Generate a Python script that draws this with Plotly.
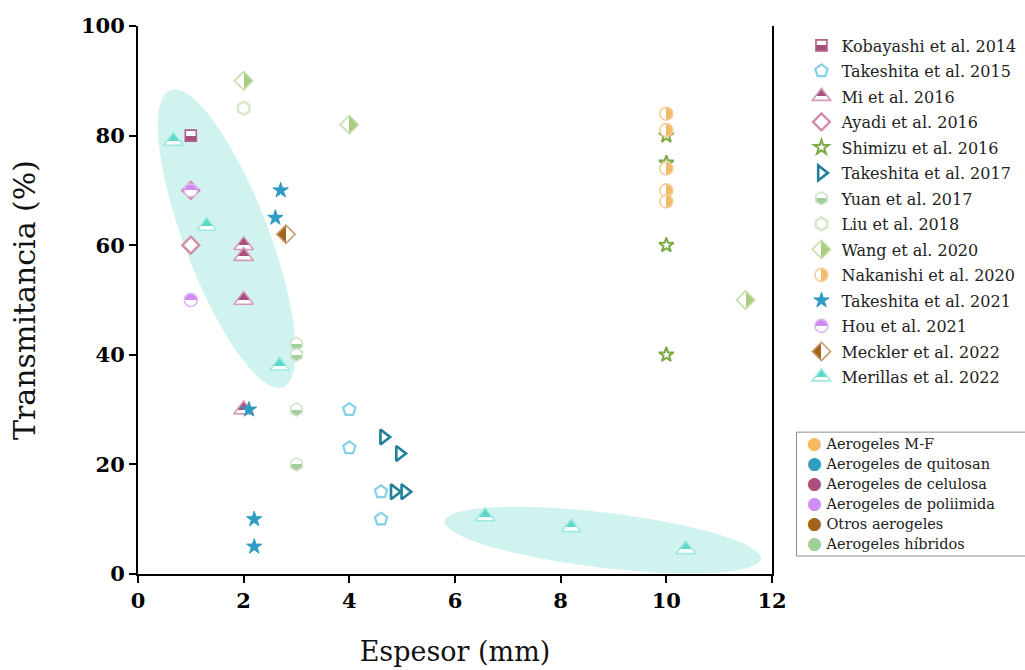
import numpy as np
import plotly.graph_objects as go

# ---------------- data ----------------
kob_x = [1.0];                          kob_y = [80]
tk15_x = [4.0, 4.0, 4.6, 4.6];          tk15_y = [30, 23, 15, 10]
mi_x = [2.0, 2.0, 2.0, 2.0];            mi_y = [60, 58, 50, 30]
ayadi_x = [1.0, 1.0];                   ayadi_y = [70, 60]
shim_x = [10, 10, 10, 10];              shim_y = [80, 75, 60, 40]
tk17_x = [4.65, 4.95, 4.85, 5.05];      tk17_y = [25, 22, 15, 15]
yuan_x = [3.0, 3.0, 3.0, 3.0];          yuan_y = [42, 40, 30, 20]
liu_x = [2.0];                          liu_y = [85]
wang_x = [2.0, 4.0, 11.5];              wang_y = [90, 82, 50]
naka_x = [10, 10, 10, 10, 10];          naka_y = [84, 81, 74, 70, 68]
tk21_x = [2.7, 2.6, 2.1, 2.2, 2.2];     tk21_y = [70, 65, 30, 10, 5]
hou_x = [1.0, 1.0];                     hou_y = [70, 50]
meck_x = [2.8];                         meck_y = [62]
meri_x = [0.67, 1.3, 2.68, 6.57, 8.2, 10.37]
meri_y = [79, 63.5, 38, 10.5, 8.5, 4.5]

category_names = ["Aerogeles M-F", "Aerogeles de quitosan", "Aerogeles de celulosa",
                  "Aerogeles de poliimida", "Otros aerogeles", "Aerogeles híbridos"]
category_colors = ["#f5b95f", "#2f9dc4", "#ad4f7e", "#cf8cf2", "#a3631b", "#9dcf98"]

x_ticks = [0, 2, 4, 6, 8, 10, 12]
y_ticks = [0, 20, 40, 60, 80, 100]

# ---------------- layout geometry ----------------
W, H = 1025, 670
ML, MR, MT, MB = 137.5, 252.5, 25.5, 96
XPX = (W - ML - MR) / 12.0      # pixels per x unit
YPX = (H - MT - MB) / 100.0     # pixels per y unit

SERIF = "DejaVu Serif"

fig = go.Figure()


def ellipse_path(cx, cy, a_px, b_px, ang_deg, n=120):
    t = np.linspace(0, 2 * np.pi, n)
    ang = np.radians(ang_deg)
    u, v = a_px * np.cos(t), b_px * np.sin(t)
    dx = u * np.cos(ang) - v * np.sin(ang)
    dy = u * np.sin(ang) + v * np.cos(ang)
    xs = cx + dx / XPX
    ys = cy - dy / YPX
    return "M " + " L ".join(f"{x:.4f},{y:.4f}" for x, y in zip(xs, ys)) + " Z"


for (cx, cy, a, b, ang) in [(1.68, 61.2, 159, 42.4, 69.2), (8.80, 6.2, 159.4, 27.6, 6.8)]:
    fig.add_shape(type="path", path=ellipse_path(cx, cy, a, b, ang), xref="x", yref="y",
                  fillcolor="#d0f3f0", line=dict(width=0), layer="below")


def add(name, xs, ys, symbol, size, fill, line, lw=1.6, grad=None, gcol=None, uid=None):
    marker = dict(symbol=symbol, size=size, color=fill, line=dict(color=line, width=lw))
    if grad:
        marker["gradient"] = dict(type=grad, color=gcol)
    kw = {}
    if uid:
        kw["uid"] = uid
    fig.add_trace(go.Scatter(x=xs, y=ys, mode="markers", name=name, legendgroup=name,
                             marker=marker, cliponaxis=False, **kw))


add("Kobayashi et al. 2014", kob_x, kob_y, "square", 11, "white", "#b45c8a", 1.6, "vertical", "#a8507c")
add("Takeshita et al. 2015", tk15_x, tk15_y, "pentagon", 13, "white", "#84d0e8", 2.2)
add("Mi et al. 2016", mi_x, mi_y, "triangle-up", 17, "#a8507c", "#d49ab8", 1.6, "vertical", "white", "trimi")
add("Ayadi et al. 2016", ayadi_x, ayadi_y, "diamond", 13, "white", "#d08cab", 2.4)
add("Shimizu et al. 2016", shim_x, shim_y, "star", 11, "white", "#7aab45", 2.0)
add("Takeshita et al. 2017", tk17_x, tk17_y, "triangle-right", 13, "white", "#227f9c", 2.6)
add("Yuan et al. 2017", yuan_x, yuan_y, "hexagon", 13, "white", "#cfe5c8", 1.6, "vertical", "#a3cf9e")
add("Liu et al. 2018", liu_x, liu_y, "hexagon", 13, "white", "#d6e8cb", 2.4)
add("Wang et al. 2020", wang_x, wang_y, "diamond", 14, "white", "#c4dea8", 1.6, "horizontal", "#a8cc80")
add("Nakanishi et al. 2020", naka_x, naka_y, "circle", 13, "white", "#f5cf98", 1.6, "horizontal", "#f2bb6a")
add("Takeshita et al. 2021", tk21_x, tk21_y, "star", 11.5, "#2f9cc3", "#2f9cc3", 1.0)
add("Hou et al. 2021", hou_x, hou_y, "circle", 13, "#cf8bf0", "#e0b5f5", 1.6, "vertical", "white")
add("Meckler et al. 2022", meck_x, meck_y, "diamond", 14, "#a3641c", "#c89a6a", 1.6, "horizontal", "white")
add("Merillas et al. 2022", meri_x, meri_y, "triangle-up", 17, "#5dd8c9", "#9feae0", 1.6, "vertical", "white", "trimer")

# ---------------- category key (second legend box) ----------------
def px_to_paper_x(px):
    return (px - ML) / (W - ML - MR)


def px_to_paper_y(py):
    return (H - MB - py) / (H - MT - MB)


fig.add_shape(type="rect", xref="paper", yref="paper",
              x0=px_to_paper_x(797), x1=px_to_paper_x(1032),
              y0=px_to_paper_y(556), y1=px_to_paper_y(432),
              line=dict(color="#8c8c8c", width=1), fillcolor="white", layer="above")
for i, (nm, col) in enumerate(zip(category_names, category_colors)):
    fig.add_annotation(xref="paper", yref="paper", x=px_to_paper_x(806), y=px_to_paper_y(443 + 20 * i),
                       xanchor="left", yanchor="middle", showarrow=False,
                       text=f"<span style='color:{col};font-size:17px'>●</span> {nm}",
                       font=dict(family=SERIF, size=14.5, color="#222"))

fig.update_layout(
    width=W, height=H,
    margin=dict(l=ML, r=MR, t=MT, b=MB, autoexpand=False),
    plot_bgcolor="white", paper_bgcolor="white",
    showlegend=True,
    legend=dict(x=px_to_paper_x(802), y=px_to_paper_y(28), xanchor="left", yanchor="top",
                font=dict(family=SERIF, size=16, color="#222"), tracegroupgap=1.7,
                bgcolor="rgba(0,0,0,0)", borderwidth=0, itemsizing="trace"),
    xaxis=dict(range=[0, 12], tickvals=x_ticks, showgrid=False, zeroline=False,
               showline=True, linecolor="black", linewidth=2, mirror=False,
               ticks="outside", ticklen=7, tickwidth=2, tickcolor="black",
               tickfont=dict(family=SERIF, size=21, color="black", weight="bold"),
               title=dict(text="Espesor (mm)", font=dict(family=SERIF, size=27, color="#111"), standoff=30)),
    yaxis=dict(range=[0, 100], tickvals=y_ticks, showgrid=False, zeroline=False,
               showline=True, linecolor="black", linewidth=2, mirror=True,
               ticks="outside", ticklen=7, tickwidth=2, tickcolor="black",
               tickfont=dict(family=SERIF, size=21, color="black", weight="bold"),
               title=dict(text="Transmitancia (%)", font=dict(family=SERIF, size=30, color="#111"), standoff=36)),
)

post = """
function hardStops(){
  document.querySelectorAll('linearGradient').forEach(function(g){
    if (g.getAttribute('data-hard')) return;
    var st = g.querySelectorAll('stop');
    if (st.length !== 2) return;
    var off = (g.id.indexOf('tri') >= 0) ? '33%' : '50%';
    var a = st[0].cloneNode(true), b = st[1].cloneNode(true);
    a.setAttribute('offset', off); b.setAttribute('offset', off);
    g.insertBefore(a, st[1]); g.insertBefore(b, st[1]);
    g.setAttribute('data-hard', '1');
  });
}
hardStops();
var gdiv = document.querySelector('.plotly-graph-div');
if (gdiv && gdiv.on) { gdiv.on('plotly_afterplot', hardStops); }
"""

fig.write_html("out.html", post_script=post)
